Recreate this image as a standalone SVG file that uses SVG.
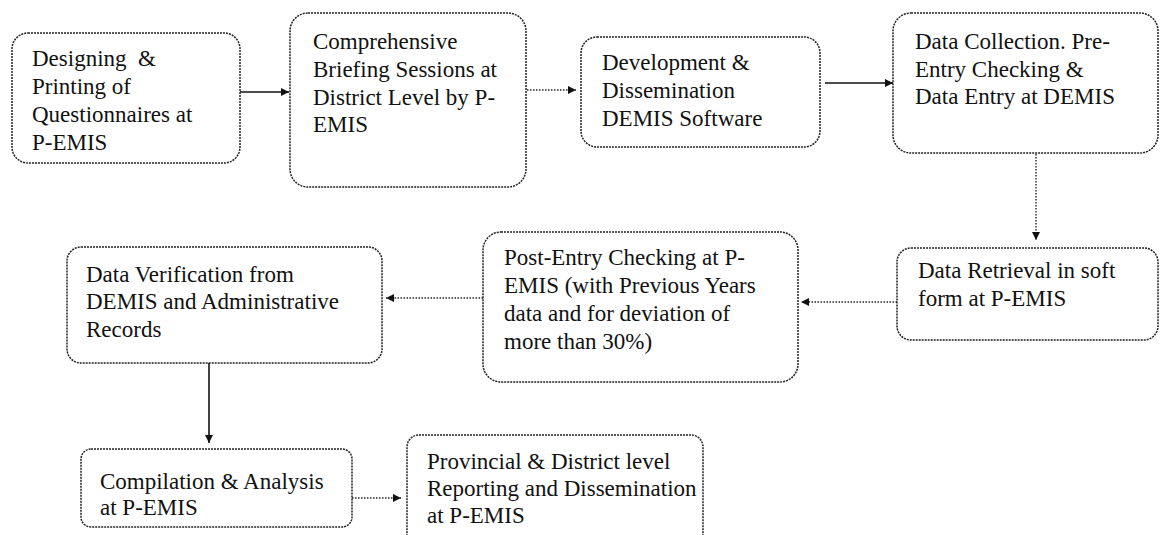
<svg xmlns="http://www.w3.org/2000/svg" width="1160" height="535" viewBox="0 0 1160 535">
<style>
.box{fill:#fff;stroke:#222;stroke-width:1.5;stroke-dasharray:2 1}
text{font-family:'Liberation Serif','DejaVu Serif',serif;font-size:23px;fill:#111}
.solid{stroke:#111;stroke-width:1.6;fill:none}
.dot{stroke:#222;stroke-width:1.4;stroke-dasharray:1.5 1.5;fill:none}
</style>
<defs>
<marker id="ah" viewBox="0 0 10 10" refX="10" refY="5" markerWidth="9" markerHeight="8" markerUnits="userSpaceOnUse" orient="auto">
<path d="M0,0 L10,5 L0,10 z" fill="#111"/>
</marker>
</defs>
<rect width="1160" height="535" fill="#fff"/>
<g id="connectors">
<line class="solid" x1="240" y1="92" x2="289" y2="92" marker-end="url(#ah)"/>
<line class="dot" x1="527" y1="90" x2="576" y2="90" marker-end="url(#ah)"/>
<line class="solid" x1="825" y1="83" x2="893" y2="83" marker-end="url(#ah)"/>
<line class="dot" x1="1036" y1="154" x2="1036" y2="240" marker-end="url(#ah)"/>
<line class="dot" x1="897" y1="302" x2="801" y2="302" marker-end="url(#ah)"/>
<line class="dot" x1="483" y1="298" x2="386" y2="298" marker-end="url(#ah)"/>
<line class="solid" x1="209" y1="363" x2="209" y2="443" marker-end="url(#ah)"/>
<line class="dot" x1="352" y1="498" x2="401" y2="498" marker-end="url(#ah)"/>
</g>
<g id="n1">
<rect class="box" x="12" y="33" width="228" height="130" rx="16"/>
<text xml:space="preserve"><tspan x="32" y="66">Designing  &amp;</tspan><tspan x="32" y="94">Printing of</tspan><tspan x="32" y="122">Questionnaires at</tspan><tspan x="32" y="150">P-EMIS</tspan></text>
</g>
<g id="n2">
<rect class="box" x="290" y="13" width="236" height="174" rx="18"/>
<text><tspan x="313" y="49">Comprehensive</tspan><tspan x="313" y="77">Briefing Sessions at</tspan><tspan x="313" y="105">District Level by P-</tspan><tspan x="313" y="132">EMIS</tspan></text>
</g>
<g id="n3">
<rect class="box" x="581" y="37" width="239" height="110" rx="16"/>
<text><tspan x="602" y="70">Development &amp;</tspan><tspan x="602" y="98">Dissemination</tspan><tspan x="602" y="126">DEMIS Software</tspan></text>
</g>
<g id="n4">
<rect class="box" x="893" y="13" width="265" height="140" rx="18"/>
<text><tspan x="915" y="49">Data Collection. Pre-</tspan><tspan x="915" y="77">Entry Checking &amp;</tspan><tspan x="915" y="104">Data Entry at DEMIS</tspan></text>
</g>
<g id="n5">
<rect class="box" x="897" y="248" width="261" height="92" rx="14"/>
<text><tspan x="918" y="278">Data Retrieval in soft</tspan><tspan x="918" y="306">form at P-EMIS</tspan></text>
</g>
<g id="n6">
<rect class="box" x="483" y="232" width="315" height="150" rx="18"/>
<text><tspan x="504" y="265">Post-Entry Checking at P-</tspan><tspan x="504" y="293">EMIS (with Previous Years</tspan><tspan x="504" y="321">data and for deviation of</tspan><tspan x="504" y="349">more than 30%)</tspan></text>
</g>
<g id="n7">
<rect class="box" x="67" y="247" width="315" height="116" rx="14"/>
<text><tspan x="86" y="282">Data Verification from</tspan><tspan x="86" y="309">DEMIS and Administrative</tspan><tspan x="86" y="337">Records</tspan></text>
</g>
<g id="n8">
<rect class="box" x="81" y="449" width="271" height="78" rx="10"/>
<text><tspan x="100" y="489">Compilation &amp; Analysis</tspan><tspan x="100" y="515">at P-EMIS</tspan></text>
</g>
<g id="n9">
<rect class="box" x="407" y="435" width="296" height="115" rx="12"/>
<text><tspan x="427" y="469">Provincial &amp; District level</tspan><tspan x="427" y="496">Reporting and Dissemination</tspan><tspan x="427" y="523">at P-EMIS</tspan></text>
</g>
</svg>
